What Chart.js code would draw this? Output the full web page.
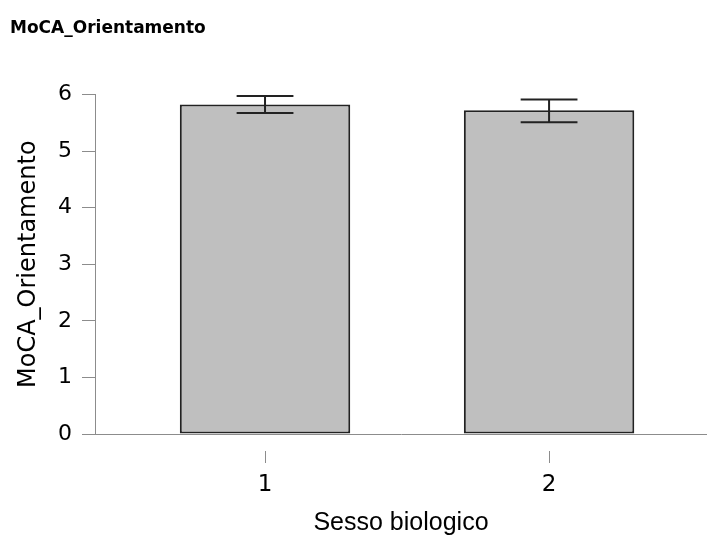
<!DOCTYPE html>
<html>
<head>
<meta charset="utf-8">
<script src="https://cdn.jsdelivr.net/npm/chart.js@4/dist/chart.umd.min.js"></script>
<style>
  html, body { margin: 0; padding: 0; background: #fff; }
  #wrap { width: 707px; height: 538px; }
</style>
</head>
<body>
<div id="wrap"><canvas id="chart" width="707" height="538"></canvas></div>
<script>
// data
const categories = ['1', '2'];
const means = [5.82, 5.72];
const errLow = [5.67, 5.51];
const errHigh = [5.97, 5.91];
const yTicks = [0, 1, 2, 3, 4, 5, 6];

const axisGray = '#8c8c8c';

// error bars on top of the bars
const errorBars = {
    id: 'errorBars',
    afterDatasetsDraw(chart) {
        const x = chart.scales.x, y = chart.scales.y, ctx = chart.ctx;
        const half = x.getPixelForValue(1.1) - x.getPixelForValue(1);
        ctx.save();
        ctx.strokeStyle = '#222';
        ctx.lineWidth = 2;
        means.forEach((m, i) => {
            const px = x.getPixelForValue(i + 1);
            const top = y.getPixelForValue(errHigh[i]);
            const bot = y.getPixelForValue(errLow[i]);
            ctx.beginPath();
            ctx.moveTo(px, top); ctx.lineTo(px, bot);
            ctx.moveTo(px - half, top); ctx.lineTo(px + half, top);
            ctx.moveTo(px - half, bot); ctx.lineTo(px + half, bot);
            ctx.stroke();
        });
        ctx.restore();
    }
};

// detached tick marks under the x axis
const xTickMarks = {
    id: 'xTickMarks',
    afterDraw(chart) {
        const x = chart.scales.x, ctx = chart.ctx;
        const base = chart.chartArea.bottom;
        ctx.save();
        ctx.strokeStyle = axisGray;
        ctx.lineWidth = 1;
        categories.forEach((c, i) => {
            const px = Math.round(x.getPixelForValue(i + 1)) + 0.5;
            ctx.beginPath();
            ctx.moveTo(px, base + 17);
            ctx.lineTo(px, base + 29);
            ctx.stroke();
        });
        ctx.restore();
    }
};

new Chart(document.getElementById('chart'), {
    type: 'bar',
    data: {
        datasets: [{
            data: means.map((v, i) => ({ x: i + 1, y: v })),
            backgroundColor: '#bfbfbf',
            borderColor: '#222',
            borderWidth: 2,
            borderSkipped: false,
            barPercentage: 0.6,
            categoryPercentage: 1
        }]
    },
    options: {
        responsive: false,
        animation: false,
        layout: { padding: { left: 10, right: 0, top: 0, bottom: 0 } },
        plugins: {
            legend: { display: false },
            tooltip: { enabled: false },
            title: {
                display: true,
                text: 'MoCA_Orientamento',
                align: 'start',
                color: '#000',
                font: { family: 'DejaVu Sans', size: 17, weight: 'bold' },
                padding: { top: 18, bottom: 56 }
            }
        },
        scales: {
            x: {
                type: 'linear',
                offset: false,
                min: 0.4014,
                max: 2.556,
                afterBuildTicks: (scale) => {
                    scale.ticks = categories.map((c, i) => ({ value: i + 1 }));
                },
                afterFit: (scale) => { scale.height = 104; },
                grid: { display: false, drawTicks: false, offset: false },
                border: { display: true, color: axisGray, width: 1 },
                ticks: {
                    color: '#000',
                    padding: 37,
                    font: { family: 'DejaVu Sans', size: 23 },
                    callback: (v) => categories[v - 1]
                },
                title: {
                    display: true,
                    text: 'Sesso biologico',
                    color: '#000',
                    font: { family: 'Liberation Sans', size: 25 },
                    padding: { top: 4, bottom: 0 }
                }
            },
            y: {
                min: 0,
                max: 6,
                afterBuildTicks: (scale) => {
                    scale.ticks = yTicks.map(v => ({ value: v }));
                },
                afterFit: (scale) => { scale.width = 85; },
                grid: { drawOnChartArea: false, tickLength: 13, color: axisGray },
                border: { display: true, color: axisGray, width: 1 },
                ticks: {
                    color: '#000',
                    padding: 10,
                    font: { family: 'DejaVu Sans', size: 22 }
                },
                title: {
                    display: true,
                    text: 'MoCA_Orientamento',
                    color: '#000',
                    font: { family: 'DejaVu Sans', size: 24 },
                    padding: { top: 4, bottom: 0 }
                }
            }
        }
    },
    plugins: [errorBars, xTickMarks]
});
</script>
</body>
</html>
